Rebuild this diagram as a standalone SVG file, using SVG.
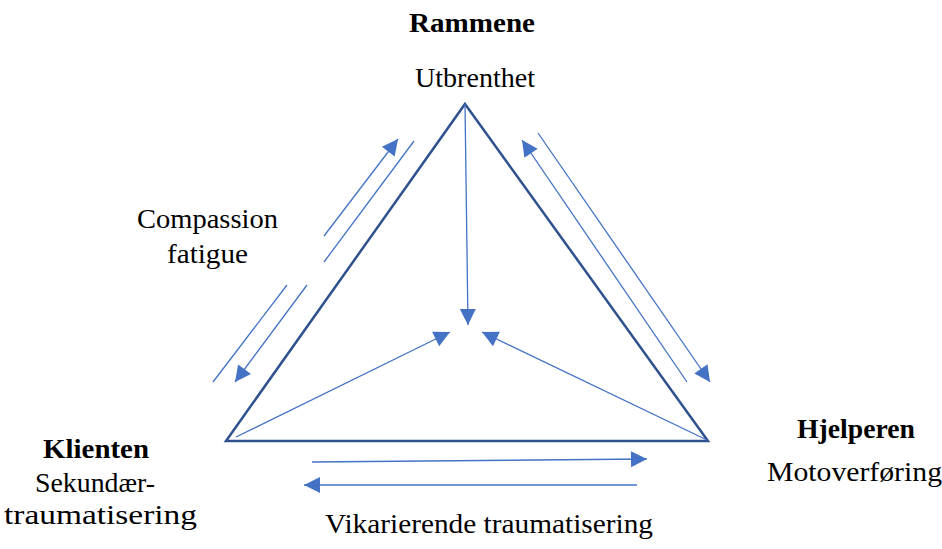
<svg xmlns="http://www.w3.org/2000/svg" width="942" height="549" viewBox="0 0 942 549">
<style>
text{font-family:"Liberation Serif","Times New Roman",serif;font-size:28px;fill:#000}
.b{font-weight:bold}
.tri{fill:none;stroke:#2F528F;stroke-width:2.5;stroke-linejoin:miter}
.ar{fill:none;stroke:#4472C4;stroke-width:1.3}
.arh{fill:none;stroke:#4472C4;stroke-width:1.3;marker-end:url(#ah)}
</style>
<defs>
<marker id="ah" markerUnits="userSpaceOnUse" markerWidth="17" markerHeight="17" refX="16" refY="8" orient="auto" overflow="visible">
<path d="M0,0 L16,8 L0,16 Z" fill="#4472C4"/>
</marker>
</defs>
<rect width="942" height="549" fill="#fff"/>
<g id="triangle">
<path class="tri" d="M465,104 L708,441 L226,441 Z"/>
</g>
<g id="connectors">
<line class="arh" x1="465" y1="104" x2="468" y2="325"/>
<line class="arh" x1="236" y1="437" x2="450" y2="332"/>
<line class="arh" x1="707" y1="440" x2="482" y2="332"/>
<line class="arh" x1="312" y1="462" x2="647" y2="459"/>
<line class="arh" x1="637" y1="485" x2="304" y2="485"/>
<line class="arh" x1="324" y1="236" x2="398" y2="139"/>
<line class="ar" x1="324" y1="262" x2="414" y2="141"/>
<line class="ar" x1="213" y1="382" x2="287" y2="285"/>
<line class="arh" x1="307" y1="285" x2="235" y2="382"/>
<line class="arh" x1="687" y1="382" x2="522" y2="140"/>
<line class="arh" x1="538" y1="133" x2="710" y2="382"/>
</g>
<g id="rammene">
<text class="b" x="409" y="32" textLength="126" lengthAdjust="spacingAndGlyphs">Rammene</text>
<text x="415" y="87" textLength="120" lengthAdjust="spacingAndGlyphs">Utbrenthet</text>
</g>
<g id="compassion">
<text x="137" y="228" textLength="141" lengthAdjust="spacingAndGlyphs">Compassion</text>
<text x="167" y="263" textLength="81" lengthAdjust="spacingAndGlyphs">fatigue</text>
</g>
<g id="klienten">
<text class="b" x="43" y="458" textLength="106" lengthAdjust="spacingAndGlyphs">Klienten</text>
<text x="35" y="492" textLength="120" lengthAdjust="spacingAndGlyphs">Sekundær-</text>
<text x="4" y="524" textLength="193" lengthAdjust="spacingAndGlyphs">traumatisering</text>
</g>
<g id="hjelperen">
<text class="b" x="797" y="438" textLength="118" lengthAdjust="spacingAndGlyphs">Hjelperen</text>
<text x="767" y="481" textLength="175" lengthAdjust="spacingAndGlyphs">Motoverføring</text>
</g>
<g id="vikarierende">
<text x="325" y="533" textLength="328" lengthAdjust="spacingAndGlyphs">Vikarierende traumatisering</text>
</g>
</svg>
